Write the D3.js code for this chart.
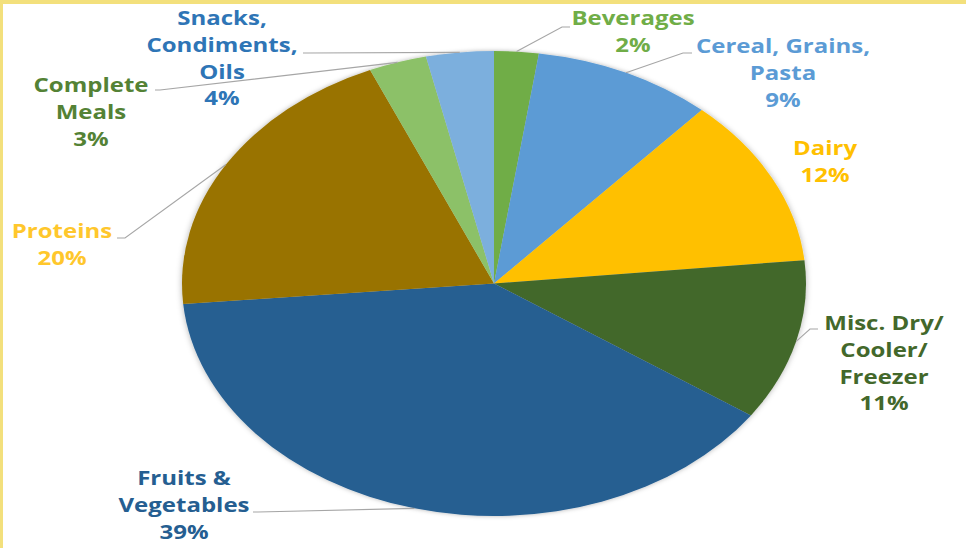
<!DOCTYPE html>
<html>
<head>
<meta charset="utf-8">
<script src="https://cdn.jsdelivr.net/npm/d3@7"></script>
<style>
  html, body { margin: 0; padding: 0; background: #fff; }
  svg { display: block; }
</style>
</head>
<body>
<svg id="chart" width="966" height="548"></svg>
<script>
// ---- data ----
const categories = ["Beverages", "Cereal, Grains, Pasta", "Dairy", "Misc. Dry/ Cooler/ Freezer",
                    "Fruits & Vegetables", "Proteins", "Complete Meals", "Snacks, Condiments, Oils"];
const values = [2.3, 9.3, 11.8, 11.2, 39.0, 19.9, 3.0, 3.5];
const labelLines = [
  ["Beverages"],
  ["Cereal, Grains,", "Pasta"],
  ["Dairy"],
  ["Misc. Dry/", "Cooler/", "Freezer"],
  ["Fruits &", "Vegetables"],
  ["Proteins"],
  ["Complete", "Meals"],
  ["Snacks,", "Condiments,", "Oils"]
];
const sliceColors = ["#70ad47", "#5b9bd5", "#ffc000", "#43682b", "#255e91", "#997300", "#8cc168", "#7cafdd"];
const labelColors = ["#70ad47", "#5b9bd5", "#ffc000", "#43682b", "#255e91", "#ffc72c", "#548235", "#2e75b6"];

// ---- layout (label placement, leader elbows) ----
const labelLayout = [
  { x: 633, y: 25,  elbow: [562, 27],  stub: [570, 27] },
  { x: 783, y: 53,  elbow: [683, 53],  stub: [692, 53] },
  { x: 825, y: 155, elbow: null,       stub: null },
  { x: 884, y: 330, elbow: [810, 329], stub: [818, 329] },
  { x: 184, y: 485, elbow: [258, 512], stub: [253, 512] },
  { x: 62,  y: 238, elbow: [125, 238], stub: [117, 238] },
  { x: 91,  y: 92,  elbow: [160, 90],  stub: [155, 90] },
  { x: 222, y: 25,  elbow: [308, 53],  stub: [303, 53] }
];

const W = 966, H = 548;
const cx = 494, cy = 283.5, rx = 312, ry = 232.5;
const lineH = 26.8;
const textScaleX = 1.2;

const svg = d3.select("#chart");

// background + frame
svg.append("rect").attr("width", W).attr("height", H).attr("fill", "#fff");

const defs = svg.append("defs");
const f = defs.append("filter").attr("id", "shadow")
  .attr("x", "-10%").attr("y", "-10%").attr("width", "120%").attr("height", "120%");
f.append("feDropShadow").attr("dx", 0).attr("dy", 0).attr("stdDeviation", 3)
  .attr("flood-color", "#000").attr("flood-opacity", 0.3);

const pie = d3.pie().sort(null).value(d => d)(values);
const arc = d3.arc().innerRadius(0).outerRadius(rx);

const pg = svg.append("g")
  .attr("transform", `translate(${cx},${cy}) scale(1,${ry / rx})`);

const slices = pg.append("g").attr("filter", "url(#shadow)");
slices.selectAll("path")
  .data(pie)
  .join("path")
  .attr("d", arc)
  .attr("fill", (d, i) => sliceColors[i]);

// leader lines
const edgePoint = d => {
  const a = (d.startAngle + d.endAngle) / 2;
  return [cx + rx * Math.sin(a), cy - ry * Math.cos(a)];
};

const leaders = svg.append("g");
pie.forEach((d, i) => {
  const L = labelLayout[i];
  if (!L.elbow) return;
  const p = edgePoint(d);
  leaders.append("polyline")
    .attr("points", [p, L.elbow, L.stub].map(q => q.join(",")).join(" "))
    .attr("fill", "none")
    .attr("stroke", "#a6a6a6")
    .attr("stroke-width", 1.1);
});

// labels
const labels = svg.append("g")
  .attr("font-family", "'Open Sans', 'DejaVu Sans', sans-serif")
  .attr("font-weight", "bold")
  .attr("font-size", 20)
  .attr("text-anchor", "middle");

pie.forEach((d, i) => {
  const L = labelLayout[i];
  const g = labels.append("g")
    .attr("transform", `translate(${L.x},0) scale(${textScaleX},1)`)
    .attr("fill", labelColors[i]);
  const lines = labelLines[i].concat([Math.round(values[i]) + "%"]);
  lines.forEach((t, k) => {
    g.append("text").attr("x", 0).attr("y", L.y + k * lineH).text(t);
  });
});

// yellow frame on top and left
svg.append("rect").attr("x", 0).attr("y", 0).attr("width", W).attr("height", 4).attr("fill", "#f3e07c");
svg.append("rect").attr("x", 0).attr("y", 0).attr("width", 3).attr("height", H).attr("fill", "#f3e07c");
</script>
</body>
</html>
